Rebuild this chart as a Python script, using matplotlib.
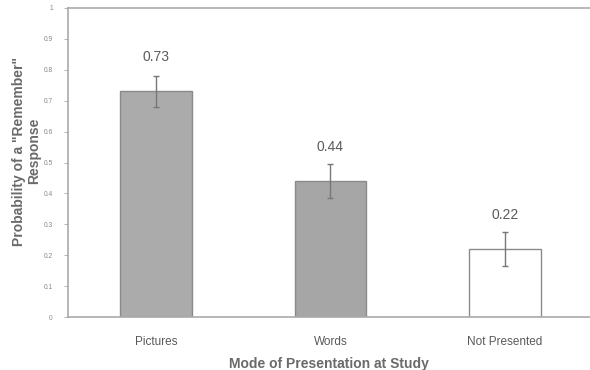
import matplotlib
matplotlib.use("Agg")
import matplotlib.pyplot as plt

categories = ["Pictures", "Words", "Not Presented"]
values = [0.73, 0.44, 0.22]
errors = [0.05, 0.055, 0.055]
value_labels = ["0.73", "0.44", "0.22"]
yticks = [0, 0.1, 0.2, 0.3, 0.4, 0.5, 0.6, 0.7, 0.8, 0.9, 1]
ytick_labels = ["0", "0.1", "0.2", "0.3", "0.4", "0.5", "0.6", "0.7", "0.8", "0.9", "1"]

fill_colors = ["#ababab", "#a6a6a6", "#ffffff"]
edge_color = "#8a8a8a"
text_color = "#5a5a5a"

plt.rcParams['font.family'] = ['Liberation Sans', 'DejaVu Sans']

fig = plt.figure(figsize=(5.9, 3.7), dpi=100)
W, H = 590, 370
ax = fig.add_axes([68 / W, 1 - 317 / H, (590 - 68) / W, (317 - 8) / H])

x = list(range(len(categories)))
ax.bar(x, values, width=0.41, color=fill_colors, edgecolor=edge_color, linewidth=1.0, zorder=2)
ax.errorbar(x, values, yerr=errors, fmt="none", ecolor="#777777", elinewidth=1.0,
            capsize=2.5, capthick=1.0, zorder=3)

for xi, v, lab in zip(x, values, value_labels):
    ax.annotate(lab, (xi, v), xytext=(0, 34), textcoords="offset pixels",
                ha="center", va="center", fontsize=10, color=text_color)

ax.set_xlim(-0.504, 2.487)
ax.set_ylim(0, 1)
ax.set_yticks(yticks)
ax.set_yticklabels(ytick_labels, fontsize=4.8, color="#888888")
ax.set_xticks(x)
ax.set_xticklabels(categories, fontsize=8.5, color=text_color)
ax.tick_params(axis="x", length=0, pad=14)
ax.tick_params(axis="y", length=3, width=0.6, color="#aaaaaa", pad=8)

for side in ["left", "top", "bottom"]:
    ax.spines[side].set_color("#aaaaaa")
    ax.spines[side].set_linewidth(1.2)
ax.spines["right"].set_visible(False)

ax.set_xlabel("Mode of Presentation at Study", fontsize=10, fontweight="bold",
              color="#6a6a6a", labelpad=6)
fig.text(27 / W, 1 - 151 / H, "Probability of a \"Remember\"\nResponse", rotation=90,
         ha="center", va="center", fontsize=10, fontweight="bold", color="#6a6a6a",
         linespacing=1.1, multialignment="center")

fig.savefig("out.png", dpi=100)
